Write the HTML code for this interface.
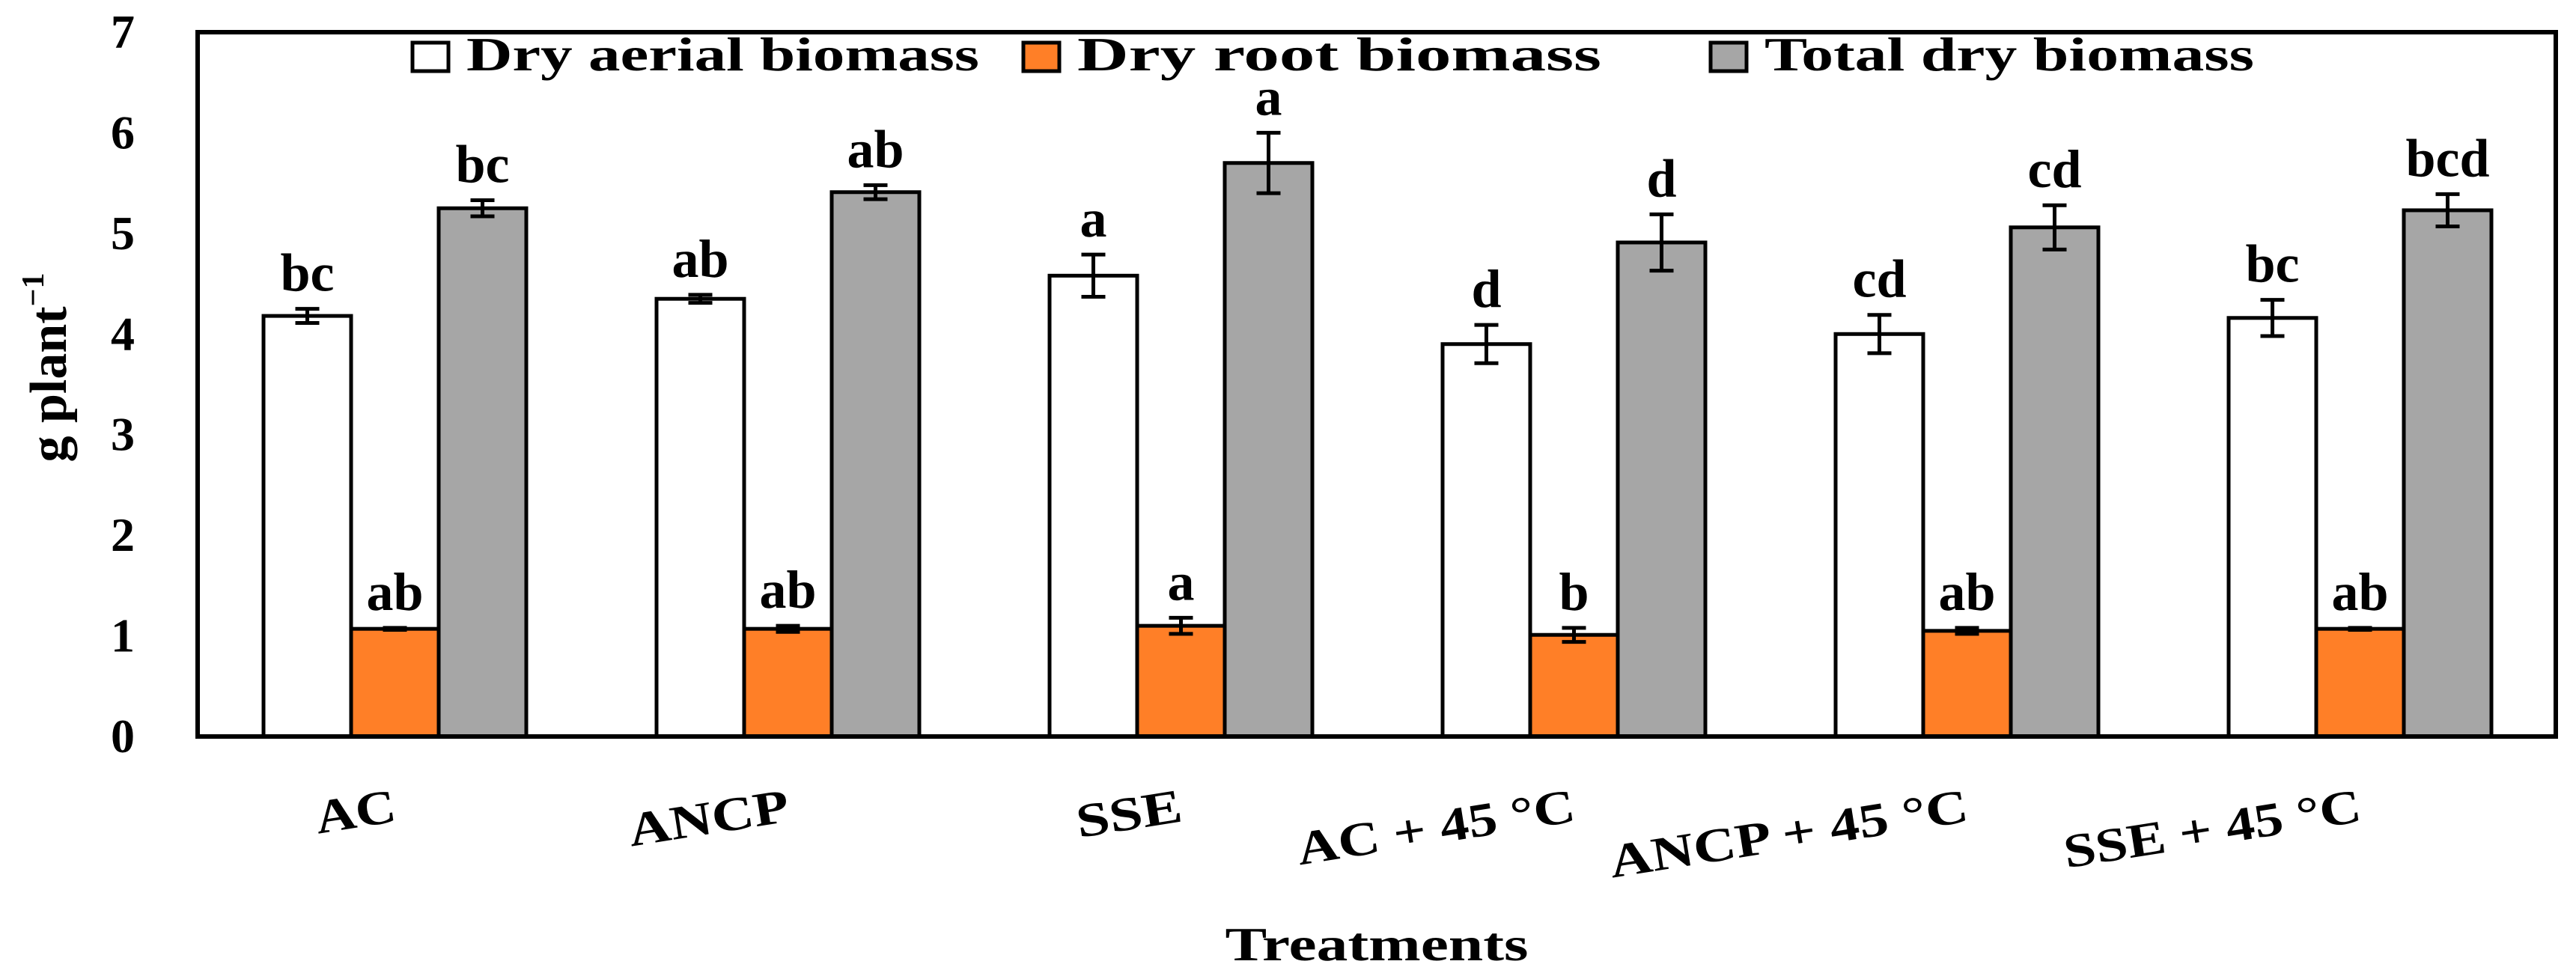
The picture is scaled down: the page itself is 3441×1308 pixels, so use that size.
<!DOCTYPE html>
<html><head><meta charset="utf-8"><style>
html,body{margin:0;padding:0;background:#fff;}
svg{display:block;font-family:"Liberation Serif",serif;font-weight:bold;}
</style></head><body>
<svg id="chart" width="3441" height="1308" viewBox="0 0 3441 1308" xmlns="http://www.w3.org/2000/svg">
<g id="plot"></g>
</svg>
<script>
const categories = ["AC","ANCP","SSE","AC + 45 °C","ANCP + 45 °C","SSE + 45 °C"];
const seriesNames = ["Dry aerial biomass","Dry root biomass","Total dry biomass"];
const aerial = [4.18,4.35,4.58,3.90,4.00,4.16];
const root = [1.07,1.07,1.10,1.01,1.05,1.07];
const total = [5.25,5.41,5.70,4.91,5.06,5.23];
const aerialErr = [0.07,0.04,0.21,0.19,0.19,0.18];
const rootErr = [0.01,0.03,0.08,0.07,0.03,0.01];
const totalErr = [0.08,0.07,0.30,0.28,0.22,0.16];
const aerialLetters = ["bc","ab","a","d","cd","bc"];
const rootLetters = ["ab","ab","a","b","ab","ab"];
const totalLetters = ["bc","ab","a","d","cd","bcd"];
const yTicks = [0,1,2,3,4,5,6,7];

const NS="http://www.w3.org/2000/svg";
const L=264,R=3414,T=43,B=984,YMAX=7;
const y=v=>B-(v/YMAX)*(B-T);
const groupW=(R-L)/categories.length;
const barW=117, offset=88;
const xBar=(i,s)=>L+groupW*i+offset+s*barW;
const fills=["#ffffff","#ff7f27","#a6a6a6"];
const labelLen=[108,216,142,375,484,401];
const vals=[aerial,root,total], errs=[aerialErr,rootErr,totalErr], lets=[aerialLetters,rootLetters,totalLetters];
const svg=document.getElementById('plot');
function mk(tag,attrs,parent){const e=document.createElementNS(NS,tag);for(const k in attrs)e.setAttribute(k,attrs[k]);(parent||svg).appendChild(e);return e;}

yTicks.forEach(t=>{
  const tx=mk('text',{x:180,y:y(t)+21,'text-anchor':'end','font-size':64});
  
  
  tx.textContent=t;
});
categories.forEach((c,i)=>{
  vals.forEach((arr,s)=>{
    const x=xBar(i,s),v=arr[i],e=errs[s][i];
    const r=mk('rect',{x:x,y:y(v),width:barW,height:B-y(v),fill:fills[s],stroke:'#000','stroke-width':5});
    
    
    const cx=x+barW/2;
    const eb=mk('path',{d:`M${cx},${y(v+e)}V${y(v-e)}M${cx-16},${y(v+e)}H${cx+16}M${cx-16},${y(v-e)}H${cx+16}`,stroke:'#000','stroke-width':5,fill:'none'});
    
    
    const lt=mk('text',{x:cx,y:y(v+e)-24,'text-anchor':'middle','font-size':72});
    
    
    lt.textContent=lets[s][i];
  });
  const cx=L+groupW*(i+0.5)+5;
  const xl=mk('text',{x:cx,y:1097,'text-anchor':'end','font-size':64,textLength:labelLen[i],lengthAdjust:'spacingAndGlyphs',transform:`rotate(-9 ${cx} 1097)`});
  
  
  xl.textContent=c;
});
const fr=mk('rect',{x:L,y:T,width:R-L,height:B-T,fill:'none',stroke:'#000','stroke-width':6});


const legX=[551,1367,2285], legTextEnd=[1308,2139,3011];
seriesNames.forEach((n,s)=>{
  const b=mk('rect',{x:legX[s],y:57,width:48,height:38,fill:fills[s],stroke:'#000','stroke-width':5});
  
  
  const tx=mk('text',{x:legX[s]+72,y:94,'font-size':64,textLength:legTextEnd[s]-legX[s]-72,lengthAdjust:'spacingAndGlyphs'});
  
  
  tx.textContent=n;
});
const yt=mk('text',{x:0,y:0,'text-anchor':'middle','font-size':70,transform:'translate(88 491) rotate(-90)'});


yt.innerHTML='g plant<tspan font-size="42" dy="-30">−1</tspan>';
const xt=mk('text',{x:1839,y:1283,'text-anchor':'middle','font-size':64,textLength:405,lengthAdjust:'spacingAndGlyphs'});


xt.textContent='Treatments';
</script>
</body></html>
